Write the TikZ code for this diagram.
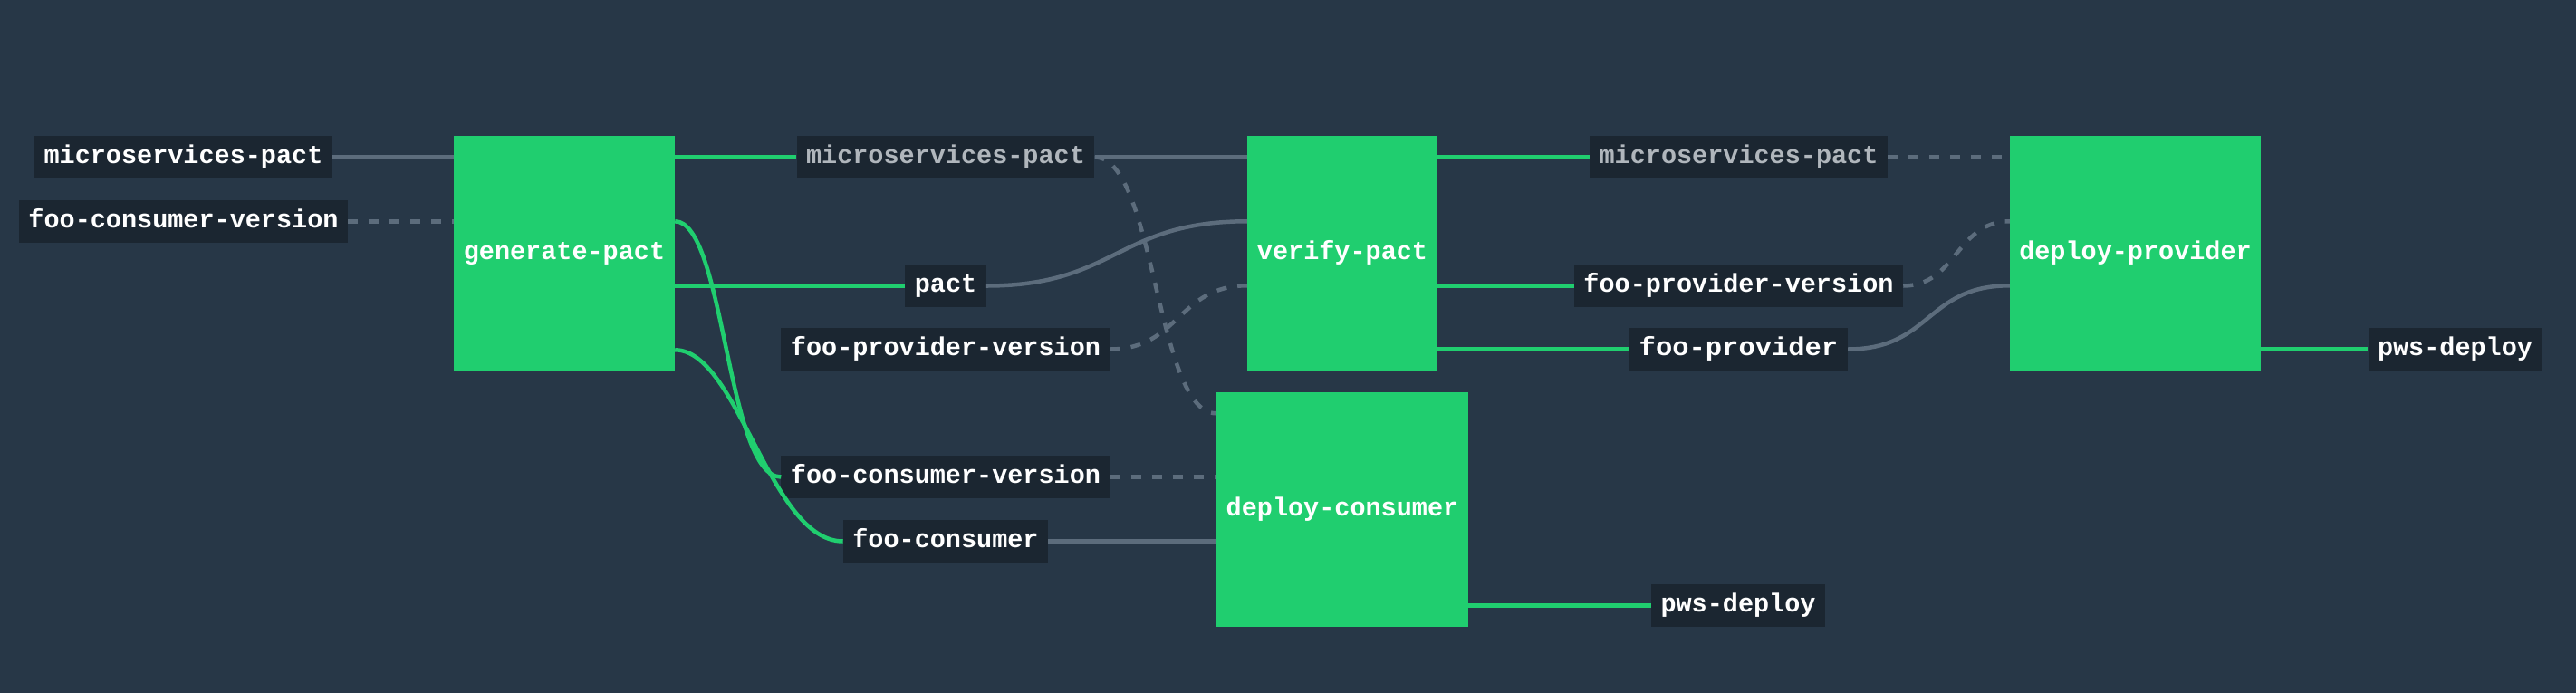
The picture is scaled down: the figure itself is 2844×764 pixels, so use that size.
\documentclass[tikz,border=0pt]{standalone}
\usepackage{fontspec}
\usepackage{graphicx}
\setmonofont{Liberation Mono}
\usetikzlibrary{calc}
\definecolor{bg}{RGB}{39,55,71}
\definecolor{lbl}{RGB}{27,38,49}
\definecolor{ok}{RGB}{32,206,111}
\definecolor{edgec}{RGB}{92,108,124}
\definecolor{dimtext}{RGB}{176,182,188}
\begin{document}
\begin{tikzpicture}[x=1pt,y=-1pt,
  every node/.style={font=\fontsize{28.5}{34}\selectfont\ttfamily\bfseries},
  res/.style={fill=lbl,text=white,inner xsep=10.5pt,inner ysep=0pt,minimum height=47pt,text height=18pt,text depth=5pt},
  dimres/.style={res,text=dimtext},
  job/.style={fill=ok,text=white,inner sep=0pt,minimum height=259pt,text height=18pt,text depth=5pt},
  ge/.style={draw=ok,line width=4.5pt},
  ie/.style={draw=edgec,line width=4.5pt},
  de/.style={draw=edgec,line width=4.5pt,dash pattern=on 11pt off 12pt}]
\useasboundingbox (0,0) rectangle (2844,764);
\fill[bg] (-10,-10) rectangle (2854,774);

% jobs
\node[job,minimum width=244pt] (gp) at (623,279.5) {generate-pact};
\node[job,minimum width=210pt] (vp) at (1482,279.5) {verify-pact};
\node[job,minimum width=278pt] (dc) at (1482,562.5) {deploy-consumer};
\node[job,minimum width=277pt] (dp) at (2357.5,279.5) {deploy-provider};

% resources
\node[res] (lmp) at (202.5,173.5) {microservices-pact};
\node[res] (lfcv) at (202.5,244.5) {foo-consumer-version};
\node[dimres] (mmp) at (1044,173.5) {microservices-pact};
\node[res] (mpact) at (1044,315.5) {pact};
\node[res] (mfpv) at (1044,385.5) {foo-provider-version};
\node[res] (mfcv) at (1044,526.5) {foo-consumer-version};
\node[res] (mfc) at (1044,597.5) {foo-consumer};
\node[dimres] (rmp) at (1919.5,173.5) {microservices-pact};
\node[res] (rfpv) at (1919.5,315.5) {foo-provider-version};
\node[res,minimum width=227pt] (rfp) at (1919.5,385.5) {\scalebox{1.07}[1]{foo-provider}};
\node[res] (lpws) at (1919,668.5) {pws-deploy};
\node[res] (rpws) at (2710.5,385.5) {pws-deploy};

% ports
\coordinate (gp-o2) at ($(gp.north east)+(0,94.5)$);
\coordinate (gp-o4) at ($(gp.north east)+(0,236.5)$);
\coordinate (vp-i2) at ($(vp.north west)+(0,94.5)$);
\coordinate (vp-i3) at ($(vp.north west)+(0,165.5)$);
\coordinate (dc-i1) at ($(dc.north west)+(0,23.5)$);
\coordinate (dp-i2) at ($(dp.north west)+(0,94.5)$);
\coordinate (dp-i3) at ($(dp.north west)+(0,165.5)$);

% inputs of generate-pact
\draw[ie] (lmp.east) -- (lmp.east -| gp.west);
\draw[de] (lfcv.east) -- (lfcv.east -| gp.west);

% outputs of generate-pact
\draw[ge] (gp.east |- mmp.west) -- (mmp.west);
\draw[ge] (gp.east |- mpact.west) -- (mpact.west);
\draw[ge] (gp-o2) .. controls +(55,0) and +(-60,0) .. (mfcv.west);
\draw[ge] (gp-o4) .. controls +(70,0) and +(-81,0) .. (mfc.west);

% inputs of verify-pact
\draw[ie] (mmp.east) -- (mmp.east -| vp.west);
\draw[ie] (mpact.east) .. controls +(143.5,0) and +(-143.5,0) .. (vp-i2);
\draw[de] (mfpv.east) .. controls +(76,0) and +(-76,0) .. (vp-i3);

% inputs of deploy-consumer
\draw[de] (mmp.east) .. controls +(67,0) and +(-67,0) .. (dc-i1);
\draw[de] (mfcv.east) -- (mfcv.east -| dc.west);
\draw[ie] (mfc.east) -- (mfc.east -| dc.west);

% outputs of verify-pact
\draw[ge] (vp.east |- rmp.west) -- (rmp.west);
\draw[ge] (vp.east |- rfpv.west) -- (rfpv.west);
\draw[ge] (vp.east |- rfp.west) -- (rfp.west);

% inputs of deploy-provider
\draw[de] (rmp.east) -- (rmp.east -| dp.west);
\draw[de] (rfpv.east) .. controls +(59,0) and +(-59,0) .. (dp-i2);
\draw[ie] (rfp.east) .. controls +(93,0) and +(-93,0) .. (dp-i3);

% deploy outputs
\draw[ge] (dp.east |- rpws.west) -- (rpws.west);
\draw[ge] (dc.east |- lpws.west) -- (lpws.west);
\end{tikzpicture}
\end{document}
